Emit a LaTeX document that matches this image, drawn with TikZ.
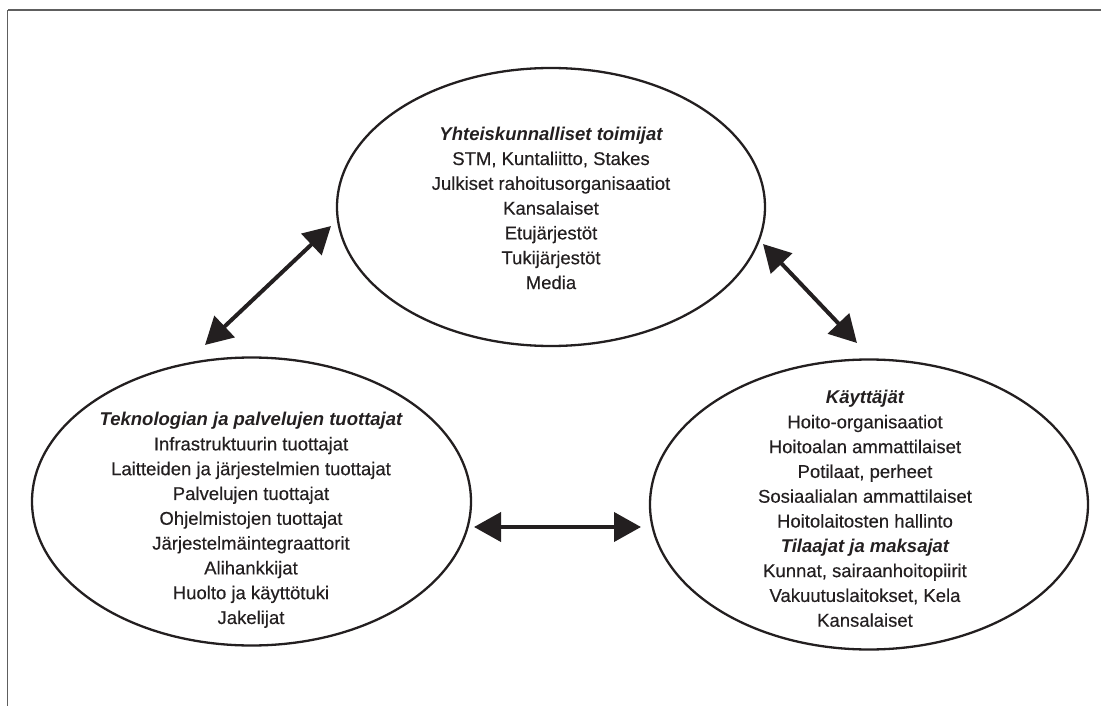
\documentclass[tikz,border=0pt]{standalone}
\usepackage{fontspec}
\setmainfont{Liberation Sans}[
  UprightFeatures={FakeBold=0.35}]
\usetikzlibrary{shapes.geometric,arrows.meta}
\definecolor{ink}{HTML}{231F20}
\definecolor{framegray}{HTML}{5E5E5E}

\begin{document}
\begin{tikzpicture}[x=1pt,y=-1pt,
  group/.style={draw=ink, line width=2.3pt, ellipse, inner sep=0pt},
  txt/.style={align=center, font=\fontsize{18.5}{24.8}\selectfont, text=ink},
  link/.style={draw=ink, line width=4pt,
    {Triangle[length=27pt,width=29pt]}-{Triangle[length=27pt,width=29pt]}}]

  \useasboundingbox (0,0) rectangle (1101,706);

  % open frame: top and left edges only
  \draw[framegray, line width=2pt] (1101,10.5) -- (7.5,10.5);
  \draw[framegray, line width=1.2pt] (7.5,10.5) -- (7.5,706);

  % the three stakeholder groups
  \node[group, minimum width=428pt, minimum height=278pt] (society) at (551,207) {};
  \node[group, minimum width=439pt, minimum height=288pt] (tech) at (251.5,501.5) {};
  \node[group, minimum width=438pt, minimum height=290pt] (users) at (869,504.5) {};

  \node[txt] (societytext) at (551,208) {%
    {\bfseries\itshape Yhteiskunnalliset toimijat}\\
    STM, Kuntaliitto, Stakes\\
    Julkiset rahoitusorganisaatiot\\
    Kansalaiset\\
    Etujärjestöt\\
    Tukijärjestöt\\
    Media};

  \node[txt] (techtext) at (251,520) {%
    {\bfseries\itshape Teknologian ja palvelujen tuottajat}\\
    Infrastruktuurin tuottajat\\
    Laitteiden ja järjestelmien tuottajat\\
    Palvelujen tuottajat\\
    Ohjelmistojen tuottajat\\
    Järjestelmäintegraattorit\\
    Alihankkijat\\
    Huolto ja käyttötuki\\
    Jakelijat};

  \node[txt] (userstext) at (865,508.5) {%
    {\bfseries\itshape Käyttäjät}\\
    Hoito-organisaatiot\\
    Hoitoalan ammattilaiset\\
    Potilaat, perheet\\
    Sosiaalialan ammattilaiset\\
    Hoitolaitosten hallinto\\
    {\bfseries\itshape Tilaajat ja maksajat}\\
    Kunnat, sairaanhoitopiirit\\
    Vakuutuslaitokset, Kela\\
    Kansalaiset};

  % arrow end points in the gaps between the ellipses
  \coordinate (st) at (331,226);
  \coordinate (ts) at (205,345);
  \coordinate (su) at (763,244);
  \coordinate (us) at (857,343);
  \coordinate (tu) at (474,527);
  \coordinate (ut) at (641,527);

  \draw[link] (st) -- (ts);
  \draw[link] (su) -- (us);
  \draw[link] (tu) -- (ut);
\end{tikzpicture}
\end{document}
